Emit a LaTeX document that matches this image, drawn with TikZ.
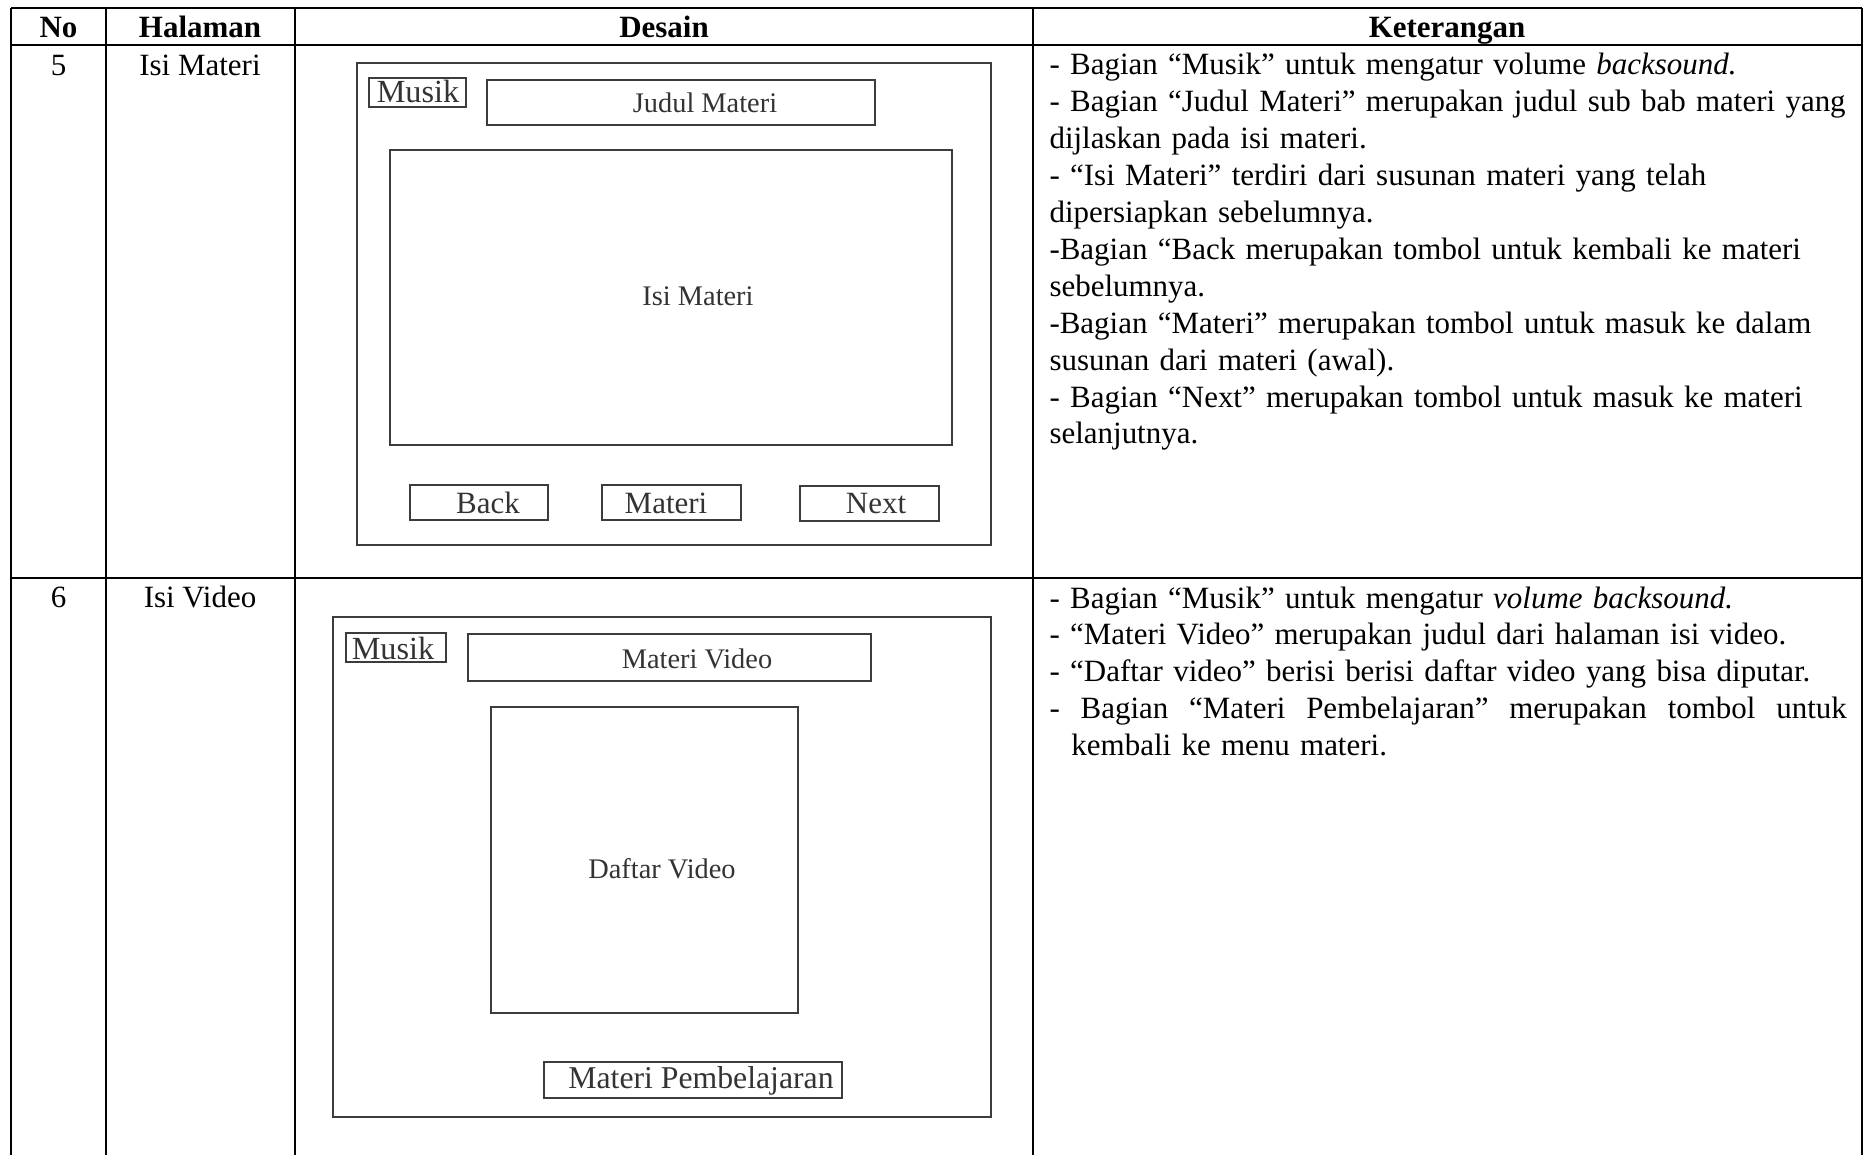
\documentclass[tikz,border=0pt]{standalone}
\usepackage{fontspec}
\setmainfont{Liberation Serif}
\definecolor{uiline}{HTML}{3C3C3C}
\definecolor{uitext}{HTML}{333333}
\tikzset{
	hdr/.style={font=\bfseries\fontsize{12}{14}\selectfont, anchor=base, inner sep=0pt},
	cell/.style={font=\fontsize{12}{14}\selectfont, anchor=base, inner sep=0pt},
	ket/.style={font=\fontsize{12}{14.3}\selectfont, anchor=north west, align=left, inner sep=0pt, text width=330pt},
	uibox/.style={draw=uiline, line width=0.9pt},
	uibtn/.style={draw=uiline, line width=1.1pt},
	uilbl/.style={text=uitext, inner sep=0pt, font=\fontsize{11}{13}\selectfont},
	uibig/.style={uilbl, font=\fontsize{12}{14}\selectfont}
}

\begin{document}
\begin{tikzpicture}[x=0.3876pt, y=-0.3876pt]
					\def\xA{11};
					\def\xB{106};
					\def\xC{295};
					\def\xD{1033};
					\def\xE{1862};
					\def\yTop{8};
					\def\yHead{45};
					\def\yRow{578};
					\def\yBot{1155};

					\useasboundingbox (0,0) rectangle (1864,1155);

					% table grid
					\begin{scope}[line width=0.8pt]
						\draw (\xA,\yTop) -- (\xE,\yTop);
						\draw (\xA,\yHead) -- (\xE,\yHead);
						\draw (\xA,\yRow) -- (\xE,\yRow);
						\foreach \x in {\xA,\xB,\xC,\xD,\xE}
							\draw (\x,\yTop) -- (\x,\yBot);
					\end{scope}

					% header
					\node[hdr] (hNo) at (58.5,37) {No};
					\node[hdr] (hHal) at (200,37) {Halaman};
					\node[hdr] (hDes) at (664,37) {Desain};
					\node[hdr] (hKet) at (1447,37) {Keterangan};

					% row 5
					\node[cell] (noA) at (58.5,75) {5};
					\node[cell] (halA) at (200,75) {Isi Materi};

					\begin{scope}
						\draw[uibox] (357,63) rectangle (991,545);
						\draw[uibtn] (369,78) rectangle (466,107);
						\draw[uibtn] (487,80) rectangle (875,125);
						\draw[uibtn] (390,150) rectangle (952,445);
						\draw[uibtn] (410,485) rectangle (548,520);
						\draw[uibtn] (602,485) rectangle (741,520);
						\draw[uibtn] (800,486) rectangle (939,521);
					\end{scope}
					\node[uibig, font=\fontsize{12.5}{14}\selectfont] (musikA) at (418,91) {Musik};
					\node[uilbl] (judul) at (705,103) {Judul Materi};
					\node[uilbl] (isi) at (698,296) {Isi Materi};
					\node[uibig] (back) at (488,503) {Back};
					\node[uibig] (materi) at (666,503) {Materi};
					\node[uibig] (next) at (876,504) {Next};

					\node[ket] (ketA) at (1049,53) {%
						- Bagian “Musik” untuk mengatur volume \textit{backsound.}\\
						- Bagian “Judul Materi” merupakan judul sub bab materi yang\\
						dijlaskan pada isi materi.\\
						- “Isi Materi” terdiri dari susunan materi yang telah\\
						dipersiapkan sebelumnya.\\
						-Bagian “Back merupakan tombol untuk kembali ke materi\\
						sebelumnya.\\
						-Bagian “Materi” merupakan tombol untuk masuk ke dalam\\
						susunan dari materi (awal).\\
						- Bagian “Next” merupakan tombol untuk masuk ke materi\\
						selanjutnya.};

					% row 6
					\node[cell] (noB) at (58.5,607) {6};
					\node[cell] (halB) at (200,607) {Isi Video};

					\begin{scope}
						\draw[uibox] (333,617) rectangle (991,1117);
						\draw[uibtn] (346,633) rectangle (446,662);
						\draw[uibtn] (468,634) rectangle (871,681);
						\draw[uibtn] (491,707) rectangle (798,1013);
						\draw[uibtn] (544,1062) rectangle (842,1098);
					\end{scope}
					\node[uibig, font=\fontsize{12.5}{14}\selectfont] (musikB) at (393,648) {Musik};
					\node[uilbl] (judulVid) at (697,659) {Materi Video};
					\node[uilbl] (daftar) at (662,869) {Daftar Video};
					\node[uibig, font=\fontsize{12.3}{14}\selectfont] (pemb) at (701,1081) {Materi Pembelajaran};

					\node[ket] (ketB) at (1049,586) {%
						- Bagian “Musik” untuk mengatur \textit{volume backsound.}\\
						- “Materi Video” merupakan judul dari halaman isi video.\\
						- “Daftar video” berisi berisi daftar video yang bisa diputar.\\
						\makebox[309pt][l]{-~\hfill Bagian~\hfill “Materi~\hfill Pembelajaran”~\hfill merupakan~\hfill tombol~\hfill untuk}\\
						\hspace*{8.5pt}kembali ke menu materi.};
				\end{tikzpicture}
\end{document}
